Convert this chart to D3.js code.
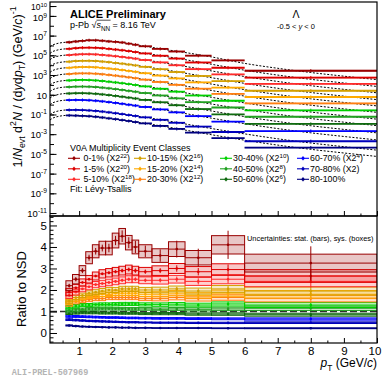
<!DOCTYPE html>
<html>
<head>
<meta charset="utf-8">
<script src="https://cdn.jsdelivr.net/npm/d3@7"></script>
<style>
  body { margin: 0; background: #fff; }
  text { font-family: "Liberation Sans", Arial, Helvetica, sans-serif; }
</style>
</head>
<body>
<script>
// ---- data ----
// pT binning (GeV/c)
const ptEdges   = [0.6, 0.8, 1.0, 1.2, 1.4, 1.6, 1.8, 2.0, 2.2, 2.4, 2.6, 2.8, 3.2, 3.7, 4.2, 5.0, 6.0, 10.0];
const ptCenters = [0.7, 0.9, 1.1, 1.3, 1.5, 1.7, 1.9, 2.1, 2.3, 2.5, 2.7, 3.0, 3.45, 3.95, 4.6, 5.5, 8.0];

// NSD reference spectrum, 1/Nevt d2N/(dy dpT)
const nsdSpectrum = [0.229, 0.240, 0.240, 0.229, 0.209, 0.182, 0.155, 0.129, 0.107, 0.087,
                     0.071, 0.052, 0.030, 0.015, 0.0063, 0.00178, 0.0002];

// Levy-Tsallis fit to the NSD spectrum, read at a few pT points
const fitPt  = [0.12, 0.2, 0.3, 0.4, 0.5, 0.6, 0.8, 1.0, 1.3, 1.6, 2.0, 2.5, 3.0, 3.5, 4.0, 5.0, 6.0, 7.0, 8.0, 9.0, 10.0];
const nsdFit = [0.079, 0.12, 0.158, 0.19, 0.214, 0.229, 0.24, 0.245, 0.234, 0.2, 0.141, 0.089, 0.052,
                0.029, 0.015, 0.004, 0.00112, 0.000355, 0.000132, 0.0000562, 0.0000251];

const classes  = ["0-1%", "1-5%", "5-10%", "10-15%", "15-20%", "20-30%",
                  "30-40%", "40-50%", "50-60%", "60-70%", "70-80%", "80-100%"];
const scalePow = [22, 20, 18, 16, 14, 12, 10, 8, 6, 4, 1, 0];   // spectra scaled by 2^n
const colors   = ["#990000", "#dd0000", "#ff2a2a", "#d4a000", "#ffaa00", "#ff7f10",
                  "#00d000", "#22a022", "#0f6a0f", "#0000ff", "#0000bb", "#000080"];

// ratio to NSD, one row per class
const ratios = [
  [2.2, 2.5, 2.9, 3.5, 3.8, 3.95, 3.95, 4.3, 4.5, 4.2, 4.0, 3.8, 3.6, 3.9, 3.5, 4.1, 3.25],
  [1.9, 2.1, 2.35, 2.5, 2.65, 2.75, 2.8, 2.85, 2.9, 2.95, 2.9, 2.85, 2.9, 3.0, 2.85, 2.95, 2.65],
  [1.75, 1.9, 2.05, 2.15, 2.25, 2.3, 2.35, 2.4, 2.45, 2.5, 2.5, 2.45, 2.45, 2.5, 2.4, 2.5, 2.4],
  [1.5, 1.65, 1.75, 1.85, 1.9, 1.95, 2.0, 2.0, 2.05, 2.05, 2.05, 2.0, 2.0, 2.05, 1.95, 2.05, 1.95],
  [1.45, 1.55, 1.65, 1.7, 1.75, 1.8, 1.8, 1.85, 1.85, 1.85, 1.85, 1.8, 1.8, 1.85, 1.75, 1.85, 1.8],
  [1.35, 1.45, 1.5, 1.55, 1.6, 1.6, 1.65, 1.65, 1.65, 1.65, 1.65, 1.6, 1.6, 1.65, 1.6, 1.65, 1.6],
  [1.2, 1.25, 1.3, 1.3, 1.32, 1.33, 1.33, 1.34, 1.35, 1.35, 1.35, 1.33, 1.32, 1.34, 1.3, 1.35, 1.3],
  [1.05, 1.08, 1.1, 1.12, 1.12, 1.13, 1.13, 1.13, 1.13, 1.12, 1.12, 1.12, 1.1, 1.12, 1.1, 1.12, 1.15],
  [0.92, 0.93, 0.94, 0.94, 0.94, 0.93, 0.93, 0.93, 0.92, 0.92, 0.92, 0.9, 0.9, 0.9, 0.88, 0.88, 0.85],
  [0.78, 0.77, 0.76, 0.75, 0.74, 0.73, 0.72, 0.72, 0.71, 0.7, 0.7, 0.69, 0.68, 0.68, 0.67, 0.66, 0.65],
  [0.62, 0.6, 0.58, 0.56, 0.55, 0.54, 0.53, 0.52, 0.51, 0.5, 0.5, 0.49, 0.48, 0.48, 0.47, 0.47, 0.48],
  [0.35, 0.32, 0.3, 0.29, 0.28, 0.27, 0.26, 0.26, 0.25, 0.25, 0.24, 0.24, 0.23, 0.23, 0.23, 0.22, 0.22]
];

// relative uncertainties
const sysClass  = [0.08, 0.07, 0.065, 0.06, 0.06, 0.06, 0.055, 0.055, 0.05, 0.05, 0.05, 0.055];
const sysBin    = [1.3, 1.1, 1, 1, 1, 1, 1, 1, 1, 1, 1, 1, 1.1, 1.1, 1.2, 1.3, 1.6];
const statBin   = [0.02, 0.02, 0.02, 0.02, 0.02, 0.02, 0.025, 0.025, 0.03, 0.03, 0.035, 0.035, 0.04, 0.05, 0.06, 0.08, 0.12];
const statClass = [2.0, 1, 1, 1, 1, 1, 1, 1, 1, 1, 1, 1.3];

const topLabelExp = [10, 9, 7, 5, 3, 1, -1, -3, -5, -7, -9, -11];
const ratioTicks  = [0, 1, 2, 3, 4, 5];
const ptTicks     = [1, 2, 3, 4, 5, 6, 7, 8, 9, 10];

// ---- layout ----
const W = 382, H = 381;
const pLeft = 50, pRight = 377, pTop = 2, pMid = 216, pBottom = 343;

const svg = d3.select("body").append("svg")
  .attr("width", W).attr("height", H)
  .style("display", "block");

const x = d3.scaleLinear().domain([0.12, 10]).range([pLeft, pRight]);
const yTop = d3.scaleLog().domain([Math.pow(10, -11.3), Math.pow(10, 10.41)]).range([pMid, pTop]);
const yRat = d3.scaleLinear().domain([-0.465, 5.44]).range([pBottom, pMid]);

// text with italics / sub / superscripts; dy0 = vertical offset of the first glyph
function rich(sel, parts, size, supRaise, dy0) {
  const up = supRaise === undefined ? 0.42 : supRaise;
  let shift = -(dy0 || 0);
  parts.forEach(p => {
    const ts = sel.append("tspan").text(p.t);
    let target = 0;
    if (p.sub) target = size * 0.3;
    if (p.sup) target = -size * up;
    ts.attr("dy", target - shift);
    shift = target;
    if (p.sub || p.sup) ts.attr("font-size", size * 0.7);
    if (p.i) ts.attr("font-style", "italic");
  });
  return sel;
}

function binOf(p) {
  const i = d3.bisectRight(ptEdges, p) - 1;
  return Math.max(0, Math.min(ptCenters.length - 1, i));
}

// ---- top panel: spectra ----
svg.append("clipPath").attr("id", "clipTop")
  .append("rect").attr("x", pLeft).attr("y", pTop).attr("width", pRight - pLeft).attr("height", pMid - pTop);
svg.append("clipPath").attr("id", "clipBot")
  .append("rect").attr("x", pLeft).attr("y", pMid).attr("width", pRight - pLeft).attr("height", pBottom - pMid);

const gTop = svg.append("g").attr("clip-path", "url(#clipTop)");

const fitLine = d3.line()
  .x(d => x(d[0]))
  .y(d => yTop(d[1]))
  .curve(d3.curveMonotoneX);

classes.forEach((c, ci) => {
  const f = Math.pow(2, scalePow[ci]);
  const pts = fitPt.map((p, k) => [p, nsdFit[k] * ratios[ci][binOf(p)] * f]);
  gTop.append("path")
    .attr("d", fitLine(pts))
    .attr("fill", "none")
    .attr("stroke", "#000")
    .attr("stroke-width", 1)
    .attr("stroke-dasharray", "2,1.6");
});

classes.forEach((c, ci) => {
  const f = Math.pow(2, scalePow[ci]);
  const pts = ptCenters.map((p, i) => ({
    lo: ptEdges[i], hi: ptEdges[i + 1], p: p,
    v: nsdSpectrum[i] * ratios[ci][i] * f,
    sys: 2 * sysClass[ci] * sysBin[i],
    stat: statBin[i] * statClass[ci]
  }));
  const g = gTop.append("g");
  g.selectAll("rect").data(pts).enter().append("rect")
    .attr("x", d => x(d.lo))
    .attr("width", d => x(d.hi) - x(d.lo))
    .attr("y", d => yTop(d.v * (1 + d.sys)))
    .attr("height", d => yTop(d.v * (1 - d.sys)) - yTop(d.v * (1 + d.sys)))
    .attr("fill", colors[ci]).attr("fill-opacity", 0.3);
  g.selectAll("line.h").data(pts).enter().append("line").attr("class", "h")
    .attr("x1", d => x(d.lo)).attr("x2", d => x(d.hi))
    .attr("y1", d => yTop(d.v)).attr("y2", d => yTop(d.v))
    .attr("stroke", colors[ci]).attr("stroke-width", 1.8);
  g.selectAll("line.v").data(pts).enter().append("line").attr("class", "v")
    .attr("x1", d => x(d.p)).attr("x2", d => x(d.p))
    .attr("y1", d => yTop(d.v) - 1.6).attr("y2", d => yTop(d.v) + 1.6)
    .attr("stroke", colors[ci]).attr("stroke-width", 1);
});

// ---- bottom panel: ratios ----
const gBot = svg.append("g").attr("clip-path", "url(#clipBot)");

gBot.append("line")
  .attr("x1", pLeft).attr("x2", pRight)
  .attr("y1", yRat(1)).attr("y2", yRat(1))
  .attr("stroke", "#333").attr("stroke-width", 1.3)
  .attr("stroke-dasharray", "7,3");

d3.range(classes.length - 1, -1, -1).forEach(ci => {
  const pts = ptCenters.map((p, i) => ({
    lo: ptEdges[i], hi: ptEdges[i + 1], p: p,
    r: ratios[ci][i],
    sys: sysClass[ci] * sysBin[i],
    stat: statBin[i] * statClass[ci]
  }));
  const g = gBot.append("g");
  g.selectAll("rect").data(pts).enter().append("rect")
    .attr("x", d => x(d.lo))
    .attr("width", d => x(d.hi) - x(d.lo))
    .attr("y", d => yRat(d.r * (1 + d.sys)))
    .attr("height", d => yRat(d.r * (1 - d.sys)) - yRat(d.r * (1 + d.sys)))
    .attr("fill", colors[ci]).attr("fill-opacity", 0.22)
    .attr("stroke", colors[ci]).attr("stroke-width", 1);
  g.selectAll("line.h").data(pts).enter().append("line").attr("class", "h")
    .attr("x1", d => x(d.lo)).attr("x2", d => x(d.hi))
    .attr("y1", d => yRat(d.r)).attr("y2", d => yRat(d.r))
    .attr("stroke", colors[ci]).attr("stroke-width", 1);
  g.selectAll("line.v").data(pts).enter().append("line").attr("class", "v")
    .attr("x1", d => x(d.p)).attr("x2", d => x(d.p))
    .attr("y1", d => yRat(d.r * (1 + d.stat))).attr("y2", d => yRat(d.r * (1 - d.stat)))
    .attr("stroke", colors[ci]).attr("stroke-width", 1);
  g.selectAll("circle").data(pts).enter().append("circle")
    .attr("cx", d => x(d.p)).attr("cy", d => yRat(d.r)).attr("r", 1.3)
    .attr("fill", colors[ci]);
});

// ---- axes ----
function styleAxis(g) {
  g.select(".domain").remove();
  g.selectAll(".tick line").attr("stroke", "#000").attr("stroke-width", 1);
}

// top panel x ticks (no labels)
svg.append("g").attr("transform", `translate(0,${pMid})`)
  .call(d3.axisBottom(x).tickValues(ptTicks).tickSize(-5).tickFormat(""))
  .call(styleAxis);
svg.append("g").attr("transform", `translate(0,${pMid})`)
  .call(d3.axisBottom(x).tickValues(d3.range(0.5, 10, 1)).tickSize(-2.5).tickFormat(""))
  .call(styleAxis);

// bottom panel x axis
svg.append("g").attr("transform", `translate(0,${pBottom})`)
  .call(d3.axisBottom(x).tickValues(ptTicks).tickSize(-5).tickPadding(3.5).tickFormat(d3.format("d")))
  .call(styleAxis)
  .call(g => g.selectAll(".tick text").attr("font-size", 11.5).attr("fill", "#000")
    .style("font-family", "'Liberation Sans', Arial, sans-serif")
    .attr("dx", d => d === 10 ? -2.5 : 0));
svg.append("g").attr("transform", `translate(0,${pBottom})`)
  .call(d3.axisBottom(x).tickValues(d3.range(0.5, 10, 1)).tickSize(-2.5).tickFormat(""))
  .call(styleAxis);

// top panel y axis (log)
svg.append("g").attr("transform", `translate(${pLeft},0)`)
  .call(d3.axisLeft(yTop).tickValues(d3.range(-11, 11).map(e => Math.pow(10, e))).tickSize(-4).tickFormat(""))
  .call(styleAxis);
svg.append("g").attr("transform", `translate(${pLeft},0)`)
  .call(d3.axisLeft(yTop).tickValues(topLabelExp.map(e => Math.pow(10, e))).tickSize(-6.5).tickPadding(3).tickFormat(""))
  .call(styleAxis)
  .call(g => g.selectAll(".tick text").each(function(d) {
    const e = Math.round(Math.log10(d));
    const fs = e === 10 ? 8.5 : 9.5;
    const t = d3.select(this).attr("font-size", fs).attr("fill", "#000").attr("dy", null)
      .style("font-family", "'Liberation Sans', Arial, sans-serif");
    t.text(null);
    const off = e === 10 ? 3.2 : (e === 9 ? 4.9 : 3.4);
    if (e === 1) rich(t, [{ t: "10" }], fs, 0.42, off);
    else rich(t, [{ t: "10" }, { t: String(e), sup: 1 }], fs, e >= 9 ? 0.36 : 0.42, off);
  }));

// bottom panel y axis
svg.append("g").attr("transform", `translate(${pLeft},0)`)
  .call(d3.axisLeft(yRat).tickValues(d3.range(-0.4, 5.41, 0.2).filter(v => Math.abs(v - Math.round(v)) > 0.01)).tickSize(-3.5).tickFormat(""))
  .call(styleAxis);
svg.append("g").attr("transform", `translate(${pLeft},0)`)
  .call(d3.axisLeft(yRat).tickValues(ratioTicks).tickSize(-7).tickPadding(3).tickFormat(d3.format("d")))
  .call(styleAxis)
  .call(g => g.selectAll(".tick text").attr("font-size", 11.5).attr("fill", "#000")
    .style("font-family", "'Liberation Sans', Arial, sans-serif"));

// frames
svg.append("rect").attr("x", pLeft).attr("y", pTop).attr("width", pRight - pLeft).attr("height", pMid - pTop)
  .attr("fill", "none").attr("stroke", "#000").attr("stroke-width", 1.2);
svg.append("rect").attr("x", pLeft).attr("y", pMid).attr("width", pRight - pLeft).attr("height", pBottom - pMid)
  .attr("fill", "none").attr("stroke", "#000").attr("stroke-width", 1.2);

// ---- axis titles ----
rich(svg.append("text")
  .attr("transform", "translate(21.5,87) rotate(-90)")
  .attr("text-anchor", "middle").attr("font-size", 12.5),
  [{ t: "1/" }, { t: "N", i: 1 }, { t: "evt", sub: 1 }, { t: " d" }, { t: "2", sup: 1 }, { t: "N", i: 1 },
   { t: " / (d" }, { t: "y", i: 1 }, { t: "d" }, { t: "p", i: 1 }, { t: "T", sub: 1 }, { t: ") (GeV/" },
   { t: "c", i: 1 }, { t: ")" }, { t: "-1", sup: 1 }], 12.5);

svg.append("text")
  .attr("transform", "translate(25.5,289) rotate(-90)")
  .attr("text-anchor", "middle").attr("font-size", 13)
  .text("Ratio to NSD");

rich(svg.append("text")
  .attr("x", pRight).attr("y", 367).attr("text-anchor", "end").attr("font-size", 12),
  [{ t: "p", i: 1 }, { t: "T", sub: 1 }, { t: " (GeV/" }, { t: "c", i: 1 }, { t: ")" }], 12);

// ---- labels ----
svg.append("text").attr("x", 70).attr("y", 18).attr("font-size", 11).attr("font-weight", "bold")
  .text("ALICE Preliminary");

const energy = rich(svg.append("text").attr("x", 70).attr("y", 28).attr("font-size", 9),
  [{ t: "p-Pb \u221A" }, { t: "s", i: 1 }, { t: "NN", sub: 1 }, { t: " = 8.16 TeV" }], 9);
{
  const n = energy.node();
  const x0 = n.getEndPositionOfChar(5).x;
  const x1 = n.getEndPositionOfChar(8).x;
  svg.append("line").attr("x1", x0).attr("x2", x1 + 0.5)
    .attr("y1", 28 - 7.8).attr("y2", 28 - 7.8)
    .attr("stroke", "#000").attr("stroke-width", 0.7);
}

svg.append("text").attr("x", 296).attr("y", 18.3).attr("text-anchor", "middle").attr("font-size", 10.5)
  .text("\u039B");
rich(svg.append("text").attr("x", 296).attr("y", 29).attr("text-anchor", "middle").attr("font-size", 7.5),
  [{ t: "-0.5 < " }, { t: "y", i: 1 }, { t: " < 0" }], 7.5);

// legend
svg.append("text").attr("x", 70).attr("y", 150.5).attr("font-size", 9)
  .text("V0A Multiplicity Event Classes");

const legCols = [[68, 83.5], [134, 147], [220, 233], [297, 310]];
const legRows = [158.3, 168.8, 179.3];
classes.forEach((c, ci) => {
  const col = legCols[Math.floor(ci / 3)];
  const yy = legRows[ci % 3];
  svg.append("line").attr("x1", col[0]).attr("x2", col[0] + 12).attr("y1", yy).attr("y2", yy)
    .attr("stroke", colors[ci]).attr("stroke-width", 1.1);
  svg.append("line").attr("x1", col[0] + 6).attr("x2", col[0] + 6).attr("y1", yy - 2).attr("y2", yy + 2)
    .attr("stroke", colors[ci]).attr("stroke-width", 1);
  svg.append("circle").attr("cx", col[0] + 6).attr("cy", yy).attr("r", 1.5).attr("fill", colors[ci]);
  const parts = [{ t: c }];
  if (scalePow[ci] > 1) parts.push({ t: " (X2" }, { t: String(scalePow[ci]), sup: 1 }, { t: ")" });
  else if (scalePow[ci] === 1) parts.push({ t: " (X2)" });
  rich(svg.append("text").attr("x", col[1]).attr("y", yy + 3.1).attr("font-size", 8.8), parts, 8.8, 0.34);
});

svg.append("text").attr("x", 70).attr("y", 192).attr("font-size", 9)
  .text("Fit: L\u00E9vy-Tsallis");

svg.append("text").attr("x", 247).attr("y", 240.5).attr("font-size", 7.4)
  .text("Uncertainties: stat. (bars), sys. (boxes)");

svg.append("text").attr("x", 50).attr("y", 375).attr("text-anchor", "middle")
  .attr("font-size", 8.5).attr("font-weight", "bold").attr("fill", "#b4b4b4")
  .style("font-family", "'Liberation Mono', 'DejaVu Sans Mono', monospace")
  .text("ALI-PREL-507969");
</script>
</body>
</html>
